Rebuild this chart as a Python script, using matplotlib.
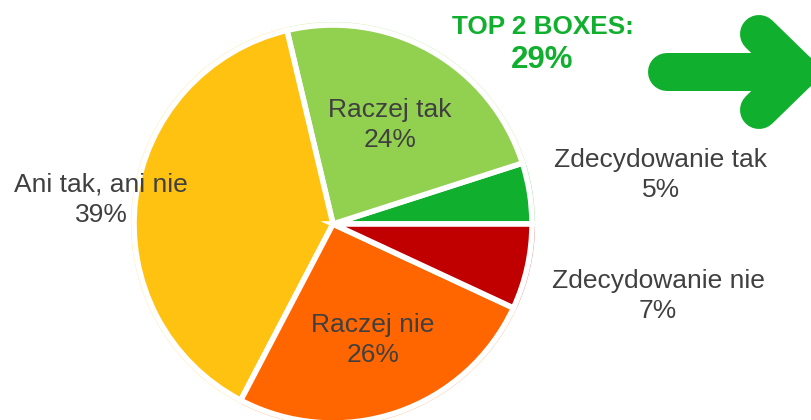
import matplotlib
matplotlib.use("Agg")
import matplotlib.pyplot as plt
from matplotlib.colors import to_rgb

plt.rcParams['font.family'] = ['Liberation Sans', 'DejaVu Sans']

categories = ["Zdecydowanie tak", "Raczej tak", "Ani tak, ani nie", "Raczej nie", "Zdecydowanie nie"]
values = [5, 24, 39, 26, 7]
colors = ["#10b02e", "#92d050", "#ffc210", "#ff6600", "#c00000"]
top2_label = "TOP 2 BOXES:"
top2_value = "29%"

W, H = 812, 420
fig = plt.figure(figsize=(W / 100, H / 100), dpi=100)
ax = fig.add_axes([0, 0, 1, 1])

cx, cy, r = 333, H - 224, 199
explode = [0.012, 0, 0, 0, 0.012]

def tint(c, f=0.55):
    rgb = to_rgb(c)
    return tuple(v + (1 - v) * f for v in rgb)

# faint outer outline
ax.pie(values, colors=["none"] * 5, startangle=0, counterclock=True,
       center=(cx, cy), radius=r + 2.5, explode=explode,
       wedgeprops=dict(edgecolor=None, linewidth=0.8, fill=False))
for w, c in zip(ax.patches, colors):
    w.set_edgecolor(tint(c))

ax.pie(values, colors=colors, startangle=0, counterclock=True,
       center=(cx, cy), radius=r, explode=explode,
       wedgeprops=dict(edgecolor="white", linewidth=4.0))

ax.set_xlim(0, W)
ax.set_ylim(0, H)
ax.set_aspect('auto')
ax.axis('off')

lab_color = "#404040"
fs = 19
label_pos = {
    "Zdecydowanie tak": (661, 175),
    "Raczej tak": (390, 125),
    "Ani tak, ani nie": (101, 200),
    "Raczej nie": (373, 340),
    "Zdecydowanie nie": (658, 296),
}
for cat, v in zip(categories, values):
    x, y = label_pos[cat]
    ax.text(x, H - y, f"{cat}\n{v}%", ha="center", va="center",
            fontsize=fs, color=lab_color, linespacing=1.32)

green = "#10b02e"
ax.text(543, H - 27, top2_label, ha="center", va="center", fontsize=18.8,
        fontweight="bold", color=green)
ax.text(542, H - 60, top2_value, ha="center", va="center", fontsize=22.5,
        fontweight="bold", color=green)

# arrow as thick rounded strokes
lw = 38 * 72 / 100
kw = dict(color=green, linewidth=lw, solid_capstyle="round", solid_joinstyle="round")
ax.plot([667, 798], [H - 72, H - 72], **kw)
ax.plot([759, 798, 759], [H - 34, H - 72, H - 110], **kw)

fig.savefig("out.png", dpi=100)
